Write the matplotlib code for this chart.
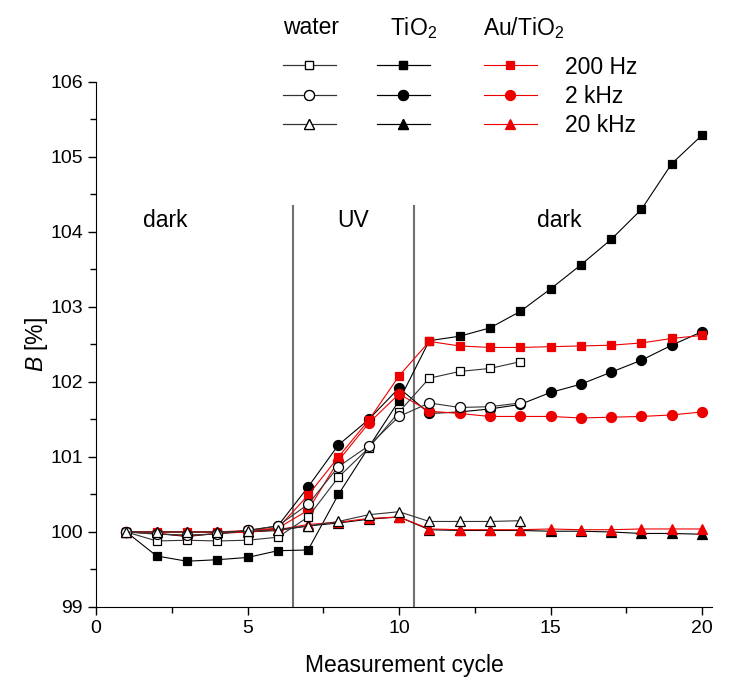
import numpy as np
import matplotlib
matplotlib.use("Agg")
import matplotlib.pyplot as plt
from matplotlib.lines import Line2D
from matplotlib.ticker import MultipleLocator

plt.rcParams['font.family'] = ['Liberation Sans', 'DejaVu Sans']
plt.rcParams['mathtext.fontset'] = 'custom'
plt.rcParams['mathtext.rm'] = 'Liberation Sans'
plt.rcParams['mathtext.it'] = 'Liberation Sans:italic'

# measurement cycles
cycles = np.arange(1, 21)
cycles_water = np.arange(1, 15)

# water (open symbols), measured only up to cycle 14
water_200hz = [100.0, 99.88, 99.89, 99.88, 99.89, 99.93, 100.20, 100.73, 101.12, 101.60,
               102.05, 102.14, 102.18, 102.27]
water_2khz = [100.0, 99.97, 99.96, 99.97, 100.02, 100.08, 100.37, 100.87, 101.15, 101.54,
              101.72, 101.66, 101.67, 101.72]
water_20khz = [100.0, 100.0, 100.0, 100.0, 100.01, 100.03, 100.08, 100.14, 100.23, 100.27,
               100.14, 100.14, 100.14, 100.15]

# TiO2 (black symbols)
tio2_200hz = [100.0, 99.68, 99.61, 99.63, 99.66, 99.75, 99.76, 100.50, 101.13, 101.75,
              102.55, 102.61, 102.72, 102.94, 103.24, 103.56, 103.90, 104.30, 104.91, 105.29]
tio2_2khz = [100.0, 99.98, 99.94, 99.98, 100.02, 100.08, 100.60, 101.16, 101.50, 101.92,
             101.58, 101.60, 101.64, 101.70, 101.86, 101.97, 102.13, 102.29, 102.49, 102.67]
tio2_20khz = [100.0, 100.0, 100.0, 100.0, 100.0, 100.02, 100.08, 100.12, 100.17, 100.20,
              100.03, 100.02, 100.02, 100.02, 100.01, 100.01, 100.0, 99.98, 99.98, 99.97]

# Au/TiO2 (red symbols)
au_200hz = [100.0, 100.0, 100.0, 100.0, 100.02, 100.05, 100.49, 101.00, 101.49, 102.08,
            102.54, 102.48, 102.46, 102.46, 102.47, 102.48, 102.49, 102.52, 102.58, 102.62]
au_2khz = [100.0, 99.98, 99.95, 99.98, 100.0, 100.05, 100.29, 100.95, 101.45, 101.84,
           101.61, 101.58, 101.54, 101.54, 101.54, 101.52, 101.53, 101.54, 101.56, 101.60]
au_20khz = [100.0, 100.0, 100.0, 100.0, 100.0, 100.03, 100.10, 100.13, 100.18, 100.20,
            100.04, 100.03, 100.03, 100.03, 100.04, 100.03, 100.03, 100.04, 100.04, 100.04]

freq_labels = ['200 Hz', '2 kHz', '20 kHz']
group_names = ['water', 'TiO$_2$', 'Au/TiO$_2$']
phase_bounds = [6.5, 10.5]
phase_text = ['dark', 'UV', 'dark']
phase_text_x = [2.3, 8.5, 15.3]

red = '#ee0000'
fs = 16.5

fig = plt.figure(figsize=(7.29, 6.81), dpi=100)
ax = fig.add_axes([0.1317, 0.1087, 0.845, 0.771])

sizes = {'s': 6.3, 'o': 7.2, '^': 7.8}
markers = ['s', 'o', '^']


def draw(x, y, marker, face, edge, line, z):
    ax.plot(x, y, color=line, lw=0.8, marker=marker, ms=sizes[marker],
            mfc=face, mec=edge, mew=0.9, zorder=z, clip_on=False)


for y, m in zip([tio2_200hz, tio2_2khz, tio2_20khz], markers):
    draw(cycles, y, m, 'black', 'black', 'black', 3)
for y, m in zip([au_200hz, au_2khz, au_20khz], markers):
    draw(cycles, y, m, red, red, red, 4)
for y, m in zip([water_200hz, water_2khz, water_20khz], markers):
    draw(cycles_water, y, m, 'white', 'black', '#333333', 5)

for xb in phase_bounds:
    ax.plot([xb, xb], [99, 104.35], color='#707070', lw=1.5, zorder=2)
for t, xt in zip(phase_text, phase_text_x):
    ax.text(xt, 104.15, t, ha='center', va='center', fontsize=fs)

ax.set_xlim(0, 20.33)
ax.set_ylim(99, 106)
ax.xaxis.set_major_locator(MultipleLocator(5))
ax.xaxis.set_minor_locator(MultipleLocator(2.5))
ax.yaxis.set_major_locator(MultipleLocator(1))
ax.yaxis.set_minor_locator(MultipleLocator(0.5))
ax.tick_params(which='both', direction='out', labelsize=14, width=1)
ax.tick_params(which='major', length=6)
ax.tick_params(which='minor', length=4)
for s in ['top', 'right']:
    ax.spines[s].set_visible(False)
ax.set_xlabel('Measurement cycle', fontsize=fs, labelpad=12)
ax.set_ylabel('$B$ [%]', fontsize=fs, labelpad=0)


def handle(face, edge, line, m):
    return Line2D([], [], color=line, lw=0.8, marker=m, ms=sizes[m],
                  mfc=face, mec=edge, mew=0.9)


# legend: water and TiO2 columns without text, Au/TiO2 column with the frequencies
leg_kw = dict(loc='upper left', frameon=False, fontsize=fs, handlelength=2.3,
              labelspacing=0.28, borderpad=0, borderaxespad=0,
              numpoints=1, bbox_transform=fig.transFigure)
h_left = [handle('white', 'black', '#333333', m) for m in markers] + \
         [handle('black', 'black', 'black', m) for m in markers]
leg1 = fig.legend(h_left, [''] * 6, ncol=2, columnspacing=1.0, handletextpad=0.8,
                  bbox_to_anchor=(283 / 729, 0.9185), **leg_kw)
h_au = [handle(red, red, red, m) for m in markers]
fig.legend(h_au, freq_labels, handletextpad=1.25,
           bbox_to_anchor=(484 / 729, 0.9185), **leg_kw)
fig.add_artist(leg1)

for name, xh in zip(group_names, [283, 390, 483]):
    fig.text(xh / 729, 1 - 28 / 681, name, ha='left', va='center', fontsize=fs)

fig.savefig('out.png', dpi=100)
